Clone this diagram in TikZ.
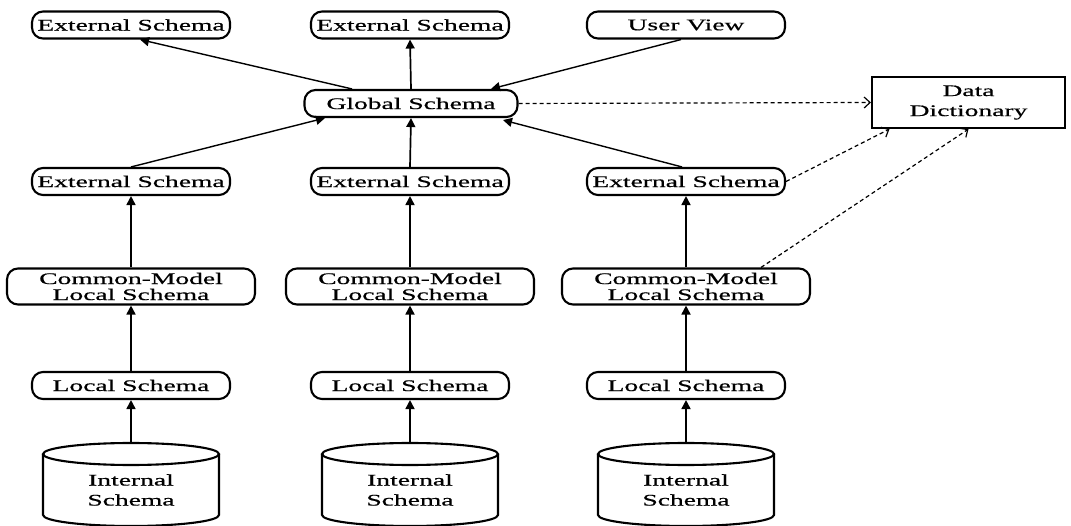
\documentclass[tikz,border=0pt]{standalone}
\usepackage{fontspec}
\setmainfont{Liberation Serif}[FakeStretch=1.70,FakeBold=0.6]
\usetikzlibrary{arrows.meta}
\newcommand\myfs{\fontsize{16.2}{16}\selectfont}
\begin{document}
\begin{tikzpicture}[x=1pt,y=-1pt,
  box/.style={draw,line width=2.1pt,rounded corners=11pt,fill=white,inner sep=0pt,align=center,font=\myfs,minimum width=198pt,minimum height=27pt},
  twobox/.style={box,minimum width=248pt,minimum height=36pt},
  ddbox/.style={draw,line width=2.1pt,fill=white,inner sep=0pt,align=center,font=\fontsize{16.2}{20}\selectfont,minimum width=193pt,minimum height=51pt},
  cyltext/.style={align=center,inner sep=0pt,font=\fontsize{16.2}{20}\selectfont},
  cylline/.style={line width=2.1pt},
  arr/.style={line width=1.7pt,-{Triangle[length=9pt,width=9pt]}},
  thinarr/.style={line width=1.4pt,-{Triangle[length=9pt,width=9pt]}},
  dasharr/.style={line width=1.2pt,dash pattern=on 4pt off 3pt,-{Straight Barb[length=6pt,width=11pt]}}]
\useasboundingbox (0,0) rectangle (1071,526);

% top row
\node[box] (et1) at (131,25) {External Schema};
\node[box] (et2) at (410,25) {External Schema};
\node[box] (uv) at (686,25) {User View};
% global
\node[box,minimum width=213pt] (glob) at (411,103.5) {Global Schema};
\node[ddbox] (dd) at (968.5,102.5) {Data\\Dictionary};

% columns
\foreach \cx/\n in {131/1,410/2,686/3}{
  \node[box] (ext\n) at (\cx,181.5) {External Schema};
  \node[twobox] (cm\n) at (\cx,286.5) {Common-Model\\Local Schema};
  \node[box] (loc\n) at (\cx,385.5) {Local Schema};
  \draw[cylline,fill=white] (\cx-88,454) -- (\cx-88,515)
     arc[start angle=180,end angle=360,x radius=88pt,y radius=11pt] -- (\cx+88,454);
  \draw[cylline] (\cx,454) ellipse[x radius=88pt,y radius=11pt];
  \coordinate (cyl\n) at (\cx,443);
  \node[cyltext] (int\n) at (\cx,490) {Internal\\Schema};
  \draw[arr] (cyl\n) -- (loc\n.south);
  \draw[arr] (loc\n.north) -- (cm\n.south);
  \draw[arr] (cm\n.north) -- (ext\n.south);
}

% to global
\draw[thinarr] (ext1.north) -- ([xshift=-86pt]glob.south);
\draw[arr] (ext2.north) -- (glob.south);
\draw[thinarr] ([xshift=-4pt]ext3.north) -- ([xshift=92pt,yshift=-2pt]glob.south);
\draw[thinarr] ([xshift=-5pt]uv.south) -- ([xshift=80pt]glob.north);
% from global
\draw[thinarr] ([xshift=-59pt]glob.north) -- ([xshift=9pt]et1.south);
\draw[arr] (glob.north) -- (et2.south);
% dictionary
\draw[dasharr] (glob.east) -- (dd.west);
\draw[dasharr] (ext3.east) -- ([xshift=-79pt]dd.south);
\draw[dasharr] ([xshift=75pt]cm3.north) -- ([xshift=0pt]dd.south);
\end{tikzpicture}
\end{document}
